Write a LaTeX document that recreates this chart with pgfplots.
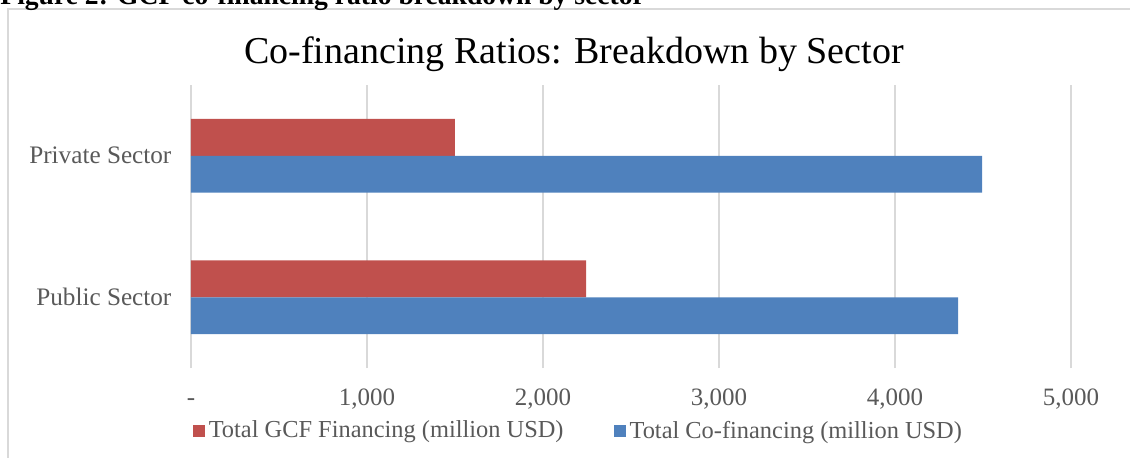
\documentclass[border=0pt]{standalone}
\usepackage{fontspec}
\setmainfont{Liberation Serif}
\usepackage{pgfplots}
\pgfplotsset{compat=1.18}
\definecolor{cred}{HTML}{C0504D}
\definecolor{cblue}{HTML}{4F81BD}
\definecolor{cgrid}{HTML}{D9D9D9}
\definecolor{ctext}{HTML}{595959}
\begin{document}
\begin{tikzpicture}
\useasboundingbox (0,0) rectangle (565pt,228.5pt);
\clip (0,0) rectangle (565pt,228.5pt);
\draw[cgrid, line width=1pt] (3.75pt,-5pt) -- (3.75pt,224pt) -- (570pt,224pt);
\node[anchor=base west, inner sep=0pt, font=\fontsize{13.8}{16}\selectfont\bfseries] at (0pt,226.5pt) {Figure 2: GCF co-financing ratio breakdown by sector};
\node[font=\fontsize{19}{22}\selectfont, text=black] at (287pt,201.5pt) {Co-financing Ratios: Breakdown by Sector};
\begin{axis}[
  at={(95.5pt,44.5pt)}, anchor=south west,
  scale only axis, width=440pt, height=141.5pt,
  xbar, xmin=0, xmax=5000, ymin=-0.5, ymax=1.5,
  bar width=0.26,
  axis line style={draw=none}, tick style={draw=none},
  xmajorgrids, major grid style={draw=cgrid, line width=0.75pt},
  xtick={0,1000,2000,3000,4000,5000},
  xticklabels={{\vphantom{1}-\hspace{5pt}},{1,000},{2,000},{3,000},{4,000},{5,000}},
  ytick={0,1}, yticklabels={Public Sector, Private Sector},
  xticklabel style={font=\fontsize{12.5}{15}\selectfont, text=ctext, yshift=-7pt},
  yticklabel style={font=\fontsize{12.6}{15}\selectfont, text=ctext, xshift=-2pt},
  legend columns=2,
  legend style={draw=none, fill=none, inner sep=0pt, outer sep=0pt,
    at={(0.002,-0.2226)}, anchor=west,
    font=\fontsize{12.2}{14}\selectfont, text=ctext,
    /tikz/every even column/.append style={column sep=23pt}},
  legend image code/.code={\fill[#1] (0pt,-3pt) rectangle (6pt,3pt);},
]
\addplot[fill=cred, draw=none, bar shift=0.13] coordinates {(2245,0) (1500,1)};
\addlegendentry{Total GCF Financing (million USD)}
\addplot[fill=cblue, draw=none, bar shift=-0.13] coordinates {(4358,0) (4495,1)};
\addlegendentry{Total Co-financing (million USD)}
\end{axis}
\end{tikzpicture}
\end{document}
